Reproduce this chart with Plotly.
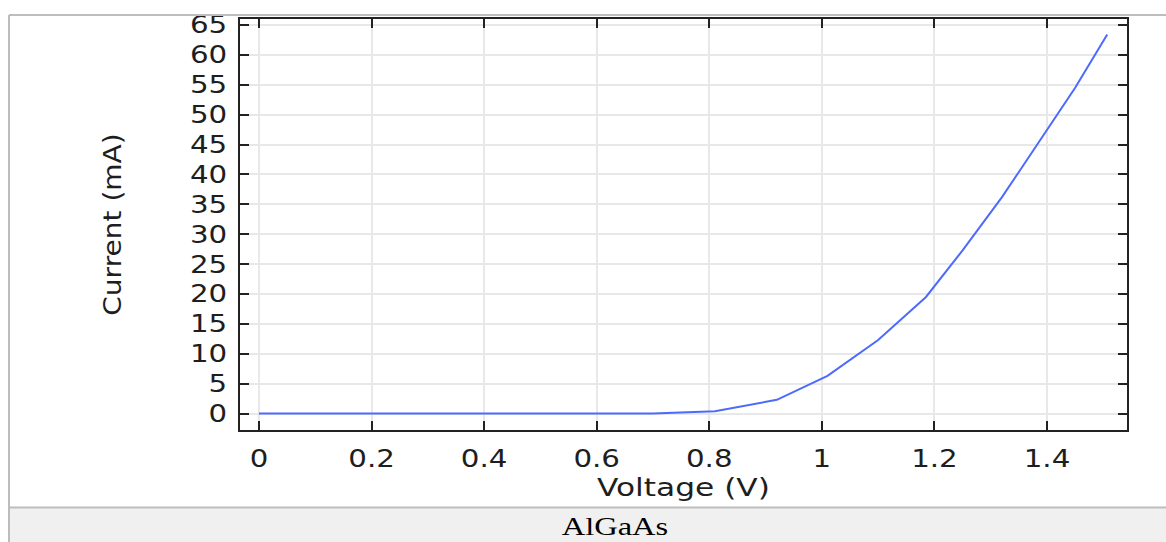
import plotly.graph_objects as go

# I-V characteristic of the AlGaAs diode
voltage_v = [0.0, 0.1, 0.2, 0.3, 0.4, 0.5, 0.6, 0.7, 0.81, 0.92, 1.01, 1.10,
             1.185, 1.25, 1.32, 1.39, 1.45, 1.507]
current_ma = [0.0, 0.0, 0.0, 0.0, 0.0, 0.0, 0.0, 0.03, 0.38, 2.3, 6.3, 12.3,
              19.5, 27.3, 36.2, 46.0, 54.5, 63.4]

x_ticks = [0, 0.2, 0.4, 0.6, 0.8, 1.0, 1.2, 1.4]
x_tick_text = ["0", "0.2", "0.4", "0.6", "0.8", "1", "1.2", "1.4"]
y_ticks = list(range(0, 70, 5))

caption = "AlGaAs"

W, H = 1166, 542
L, R, T, B = 240, 1127, 11, 430


def px(x):
    return (x - L) / (R - L)


def py(y):
    return (B - y) / (B - T)


fig = go.Figure()
fig.add_trace(go.Scatter(
    x=voltage_v, y=current_ma, mode="lines",
    line=dict(color="#4d6bfa", width=2),
    showlegend=False, hoverinfo="skip",
))

axis_common = dict(
    showline=True, linecolor="#222222", linewidth=2, mirror="ticks",
    ticks="inside", ticklen=9, tickwidth=2, tickcolor="#222222",
    showgrid=True, gridcolor="#e8e8e8", gridwidth=2, zeroline=False,
    tickfont=dict(family="DejaVu Sans", size=24, color="#1e1e1e"),
)

fig.update_xaxes(
    range=[-0.0337, 1.5421], tickvals=x_ticks, ticktext=x_tick_text,
    title=dict(text="Voltage (V)", standoff=2,
               font=dict(family="DejaVu Sans", size=25, color="#1e1e1e")),
    ticklabelstandoff=6,
    **axis_common,
)
fig.update_yaxes(
    range=[-2.75, 66.0], tickvals=y_ticks,
    title=dict(text="Current (mA)", standoff=68,
               font=dict(family="DejaVu Sans", size=25, color="#1e1e1e")),
    ticklabelstandoff=6,
    **axis_common,
)

# table-cell frame and caption band
shapes = [
    dict(type="rect", xref="paper", yref="paper", x0=px(9), x1=px(1170),
         y0=py(509), y1=py(545), fillcolor="#f0f0f0", line=dict(width=0),
         layer="below"),
    dict(type="line", xref="paper", yref="paper", x0=px(9), x1=px(1170),
         y0=py(509), y1=py(509), line=dict(color="#bdbdbd", width=2)),
    dict(type="line", xref="paper", yref="paper", x0=px(9), x1=px(1166),
         y0=py(7), y1=py(7), line=dict(color="#bdbdbd", width=2)),
    dict(type="line", xref="paper", yref="paper", x0=px(9), x1=px(9),
         y0=py(7), y1=py(545), line=dict(color="#bdbdbd", width=2)),
]

fig.update_layout(
    width=W, height=H,
    margin=dict(l=L, r=W - R, t=T, b=H - B),
    paper_bgcolor="white", plot_bgcolor="white",
    shapes=shapes,
    annotations=[dict(
        text=caption, xref="paper", yref="paper", x=px(615), y=py(528),
        showarrow=False, xanchor="center", yanchor="middle",
        font=dict(family="Liberation Serif", size=25, color="black"),
    )],
)

# widen the lettering a little (the labels use a broad, stretched face)
stretch_js = """
var gd = document.getElementById('{plot_id}');
function widenText() {
  var rules = [['.xtick text', 1.22], ['.ytick text', 1.22],
               ['.g-xtitle text', 1.25], ['.g-ytitle text', 1.12],
               ['.annotation-text', 1.3]];
  rules.forEach(function (r) {
    gd.querySelectorAll(r[0]).forEach(function (t) {
      t.removeAttribute('textLength');
      var w = t.getComputedTextLength();
      t.setAttribute('lengthAdjust', 'spacingAndGlyphs');
      t.setAttribute('textLength', (w * r[1]).toFixed(1));
    });
  });
}
widenText();
"""

fig.write_html("out.html", post_script=stretch_js)
